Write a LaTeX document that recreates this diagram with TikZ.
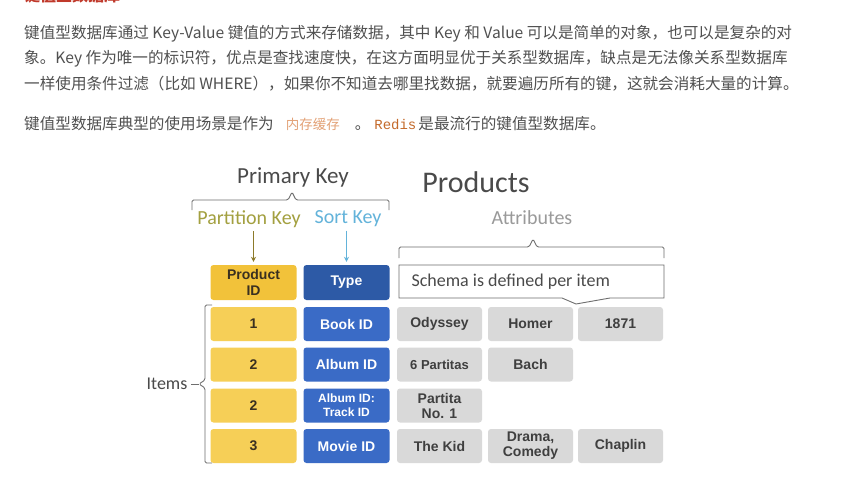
\documentclass[tikz,border=0pt]{standalone}
\usepackage{fontspec}
\usepackage{tikz}
\usetikzlibrary{arrows.meta,positioning}
\setmainfont{Carlito}
\newfontfamily\cjkfont{Noto Sans CJK SC}
\newfontfamily\calfont{Carlito}
\newfontfamily\cellfont{Liberation Sans}
\newfontfamily\codefont{Liberation Mono}
\newcommand{\fsz}[2]{\fontsize{#1}{#2}\selectfont}
\definecolor{bodytext}{HTML}{505050}
\definecolor{headred}{HTML}{C0392B}
\definecolor{cachetext}{HTML}{E3A277}
\definecolor{redistext}{HTML}{C46A2B}
\definecolor{keygold}{HTML}{F2C23A}
\definecolor{rowgold}{HTML}{F6CF57}
\definecolor{goldtext}{HTML}{3A3020}
\definecolor{typeblue}{HTML}{2D5AA6}
\definecolor{rowblue}{HTML}{3A6BC6}
\definecolor{attrgray}{HTML}{D9D9D9}
\definecolor{celltext}{HTML}{3F3F3F}
\definecolor{olivekey}{HTML}{A3A040}
\definecolor{olivearr}{HTML}{8C7A2A}
\definecolor{sortblue}{HTML}{63B3DA}
\definecolor{titlegray}{HTML}{4A4A4A}
\definecolor{lightgray}{HTML}{9A9A9A}
\definecolor{bracegray}{HTML}{6E6E6E}
\tikzset{
  para/.style={anchor=west,inner sep=0pt,font=\cjkfont\fsz{15.6}{18},
               text=bodytext},
  cell/.style={rounded corners=3pt,minimum width=86pt,minimum height=34pt,
               inner sep=1pt,align=center,font=\cellfont\bfseries\fsz{14}{16}},
  pkcell/.style={cell,fill=keygold,text=goldtext,minimum height=35pt},
  pkrow/.style={cell,fill=rowgold,text=goldtext},
  skcell/.style={cell,fill=typeblue,text=white,minimum height=35pt},
  skrow/.style={cell,fill=rowblue,text=white},
  attrcell/.style={cell,fill=attrgray,text=celltext,minimum width=85pt},
  keybrace/.style={draw=bracegray,line width=0.9pt,rounded corners=1.5pt},
  keyarr/.style={-{Stealth[length=5pt,width=5pt]},line width=0.9pt,
                 shorten >=3pt}
}
\begin{document}
\begin{tikzpicture}[x=1pt,y=-1pt]
  \fill[white] (0,0) rectangle (849,482);
  \useasboundingbox (0,0) rectangle (849,482);
  % text above the picture
  \node[anchor=base west,inner sep=0pt,font=\cjkfont\bfseries\fsz{16}{18},
        text=headred] (heading) at (24,1.5) {键值型数据库};
  \node[para] (line1) at (24,34)
    {键值型数据库通过 Key-Value 键值的方式来存储数据，其中 Key 和 Value 可以是简单的对象，也可以是复杂的对};
  \node[para] (line2) at (24,59)
    {象。Key 作为唯一的标识符，优点是查找速度快，在这方面明显优于关系型数据库，缺点是无法像关系型数据库};
  \node[para] (line3) at (24,84)
    {一样使用条件过滤（比如 WHERE），如果你不知道去哪里找数据，就要遍历所有的键，这就会消耗大量的计算。};
  \node[para] (line4) at (24,124)
    {键值型数据库典型的使用场景是作为\hspace{12pt}{\color{cachetext}\fsz{13.5}{15}内存缓存}\hspace{15pt}。\hspace{4pt}{\codefont\color{redistext}\fsz{14}{16}Redis}\hspace{2pt}是最流行的键值型数据库。};

  % key titles
  \node[font=\calfont\fsz{23}{26},text=titlegray] (pk) at (293,177) {Primary Key};
  \node[font=\calfont\fsz{20}{24},text=olivekey] (partkey) at (249,219) {Partition Key};
  \node[font=\calfont\fsz{20}{24},text=sortblue] (sortkey) at (348,219) {Sort Key};
  \node[font=\calfont\fsz{30}{34},text=titlegray] (products) at (476,182) {Products};
  \node[font=\calfont\fsz{20}{24},text=lightgray] (attrs) at (532,218) {Attributes};

  % braces
  \coordinate (pkbl) at (192,210);
  \coordinate (pkbr) at (389,210);
  \coordinate (pkbtip) at (292,192);
  \draw[keybrace] (pkbl) -- (192,200) -- (288,200) -- (pkbtip)
    -- (296,200) -- (389,200) -- (pkbr);
  \coordinate (atbl) at (399,258);
  \coordinate (atbr) at (664,258);
  \coordinate (atbtip) at (533,239);
  \draw[keybrace] (atbl) -- (399,247) -- (529,247) -- (atbtip)
    -- (537,247) -- (664,247) -- (atbr);

  % header row
  \node[pkcell] (pid) at (253.5,282.5) {Product\\ID};
  \node[skcell] (type) at (346.5,282.5) {Type};
  \draw[draw=bracegray,line width=0.9pt,fill=white]
    (399,265) -- (664,265) -- (664,298) -- (610,298) -- (576,304)
    -- (562,298) -- (399,298) -- cycle;
  \node[anchor=west,font=\calfont\fsz{18}{20},text=titlegray] (schema)
    at (408,282) {Schema is defined per item};

  \draw[keyarr,draw=olivearr] (pid.north |- partkey.south) -- (pid.north);
  \draw[keyarr,draw=sortblue,line width=0.7pt] (type.north |- sortkey.south) -- (type.north);

  % items
  \node[pkrow] (p1) at (253.5,324) {1};
  \node[pkrow] (p2) at (253.5,364.5) {2};
  \node[pkrow] (p3) at (253.5,405.5) {2};
  \node[pkrow] (p4) at (253.5,446) {3};
  \node[skrow] (s1) at (346.5,324) {Book ID};
  \node[skrow] (s2) at (346.5,364.5) {Album ID};
  \node[skrow,font=\cellfont\bfseries\fsz{12}{14}] (s3) at (346.5,405.5)
    {Album ID:\\Track ID};
  \node[skrow] (s4) at (346.5,446) {Movie ID};

  \node[attrcell] (a11) at (439.5,324) {Odyssey};
  \node[attrcell] (a12) at (530.5,324) {Homer};
  \node[attrcell] (a13) at (620.5,324) {1871};
  \node[attrcell,font=\cellfont\bfseries\fsz{13}{15}] (a21) at (439.5,364.5) {6 Partitas};
  \node[attrcell] (a22) at (530.5,364.5) {Bach};
  \node[attrcell,font=\cellfont\bfseries\fsz{14}{15}] (a31) at (439.5,405.5) {Partita\\No. 1};
  \node[attrcell] (a41) at (439.5,446) {The Kid};
  \node[attrcell,font=\cellfont\bfseries\fsz{14}{15}] (a42) at (530.5,446) {Drama,\\Comedy};
  \node[attrcell] (a43) at (620.5,446) {Chaplin};

  \node[font=\calfont\fsz{18}{20},text=titlegray] (items) at (167,384) {Items};
  \coordinate (itbtop) at (212,305);
  \coordinate (itbbot) at (212,463);
  \coordinate (itbtip) at (199,384);
  \draw[keybrace] (itbtop) -- (205,305) -- (205,380) -- (itbtip)
    -- (205,388) -- (205,463) -- (itbbot);
  \draw[draw=bracegray,line width=0.9pt] (items.east) -- (itbtip);
\end{tikzpicture}
\end{document}
